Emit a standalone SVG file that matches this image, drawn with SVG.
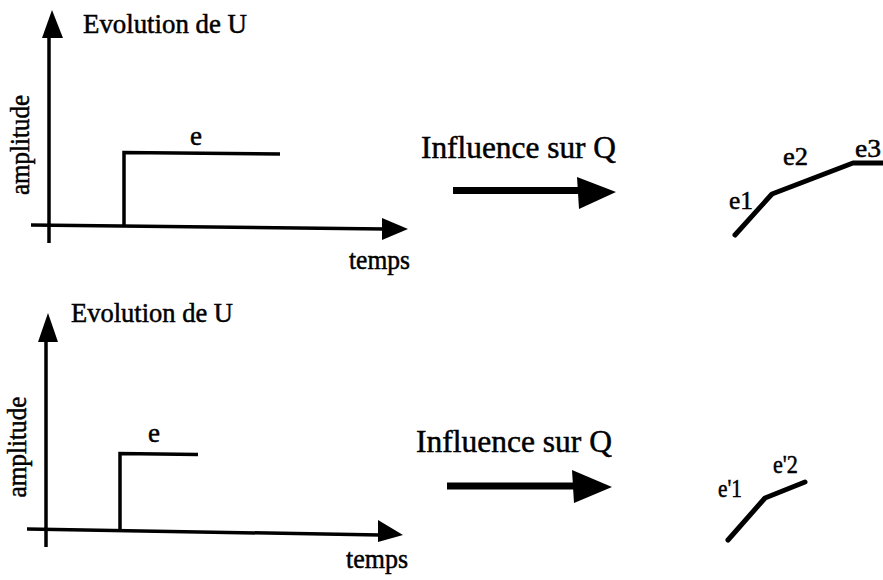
<svg xmlns="http://www.w3.org/2000/svg" width="883" height="580" viewBox="0 0 883 580">
<style>
text{font-family:"Liberation Serif","Times New Roman",serif;fill:#000;stroke:#000;stroke-width:0.5}
.lbl{font-size:27px}
.big{font-size:32px}
.sm{font-size:25px}
.ax{stroke:#000;stroke-width:3.5;fill:none}
.sig{stroke:#000;stroke-width:3.5;fill:none;stroke-linejoin:miter}
.q{stroke:#000;stroke-width:5;fill:none;stroke-linecap:round;stroke-linejoin:round}
.hd{fill:#000}
</style>
<rect width="883" height="580" fill="#fff"/>
<g id="chart1">
  <line class="ax" x1="49" y1="30" x2="49" y2="243"/>
  <polygon class="hd" points="52,10 42,38 63,38"/>
  <line class="ax" x1="31" y1="225" x2="385" y2="229"/>
  <polygon class="hd" points="408,229 382,218 382,240"/>
  <polyline class="sig" points="124,226 124,152.5 280,154"/>
  <text class="lbl" x="83" y="33" textLength="164" lengthAdjust="spacingAndGlyphs">Evolution de U</text>
  <text class="lbl" transform="translate(29,145) rotate(-90)" text-anchor="middle" textLength="100" lengthAdjust="spacingAndGlyphs">amplitude</text>
  <text class="lbl" x="196" y="145" text-anchor="middle">e</text>
  <text class="lbl" x="349" y="269" textLength="61" lengthAdjust="spacingAndGlyphs">temps</text>
</g>
<g id="influence1">
  <text class="big" x="421" y="158" textLength="195" lengthAdjust="spacingAndGlyphs">Influence sur Q</text>
</g>
<g id="result1">
  <text class="sm" x="729" y="209" textLength="24" lengthAdjust="spacingAndGlyphs">e1</text>
  <text class="sm" x="783" y="165" textLength="25" lengthAdjust="spacingAndGlyphs">e2</text>
  <text class="sm" x="855" y="157" textLength="26" lengthAdjust="spacingAndGlyphs">e3</text>
</g>
<g id="chart2">
  <line class="ax" x1="46" y1="335" x2="46" y2="547"/>
  <polygon class="hd" points="48,313 38,342 58,342"/>
  <line class="ax" x1="27" y1="529" x2="380" y2="535"/>
  <polygon class="hd" points="403,535 378,520 378,542"/>
  <polyline class="sig" points="120,530 120,453.5 198,454.5"/>
  <text class="lbl" x="71" y="322" textLength="162" lengthAdjust="spacingAndGlyphs">Evolution de U</text>
  <text class="lbl" transform="translate(26,447) rotate(-90)" text-anchor="middle" textLength="101" lengthAdjust="spacingAndGlyphs">amplitude</text>
  <text class="lbl" x="154" y="442" text-anchor="middle">e</text>
  <text class="lbl" x="346" y="568" textLength="62" lengthAdjust="spacingAndGlyphs">temps</text>
</g>
<g id="influence2">
  <text class="big" x="416" y="452" textLength="196" lengthAdjust="spacingAndGlyphs">Influence sur Q</text>
</g>
<g id="result2">
  <text class="sm" x="718" y="497" textLength="24" lengthAdjust="spacingAndGlyphs">e'1</text>
  <text class="sm" x="773" y="473" textLength="25" lengthAdjust="spacingAndGlyphs">e'2</text>
</g>
<g id="connectors">
  <line x1="453" y1="190.5" x2="580" y2="190.5" stroke="#000" stroke-width="7"/>
  <polygon class="hd" points="616,192 577,177 579,209"/>
  <polyline class="q" points="735,235 772,194 853,163 883,163"/>
  <line x1="447" y1="486" x2="575" y2="486" stroke="#000" stroke-width="7"/>
  <polygon class="hd" points="612,487 572,470 574,503"/>
  <polyline class="q" points="728,540 765,498 805,482"/>
</g>
</svg>
